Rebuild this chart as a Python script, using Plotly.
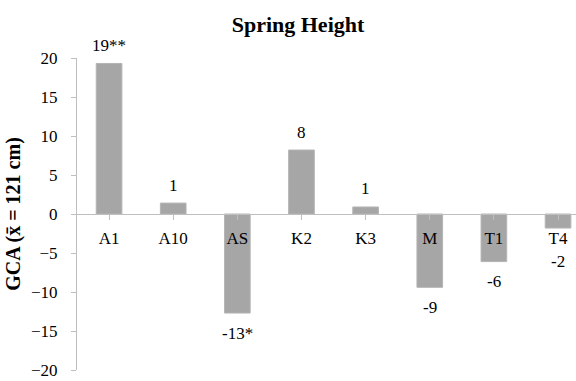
import plotly.graph_objects as go

# Spring height GCA per parent line
lines = ["A1", "A10", "AS", "K2", "K3", "M", "T1", "T4"]
gca = [19.3, 1.4, -12.7, 8.2, 0.9, -9.4, -6.1, -1.8]
signif = ["**", "", "*", "", "", "", "", ""]
y_ticks = [-20, -15, -10, -5, 0, 5, 10, 15, 20]

SERIF = "Liberation Serif, Times New Roman, serif"
AXIS_GREY = "#BFBFBF"
BAR_GREY = "#A6A6A6"

fig = go.Figure()
fig.add_trace(go.Bar(
    x=list(range(len(lines))),
    y=gca,
    width=0.4,
    marker=dict(color=BAR_GREY, line=dict(color="#B4B4B4", width=1)),
    hoverinfo="skip",
))

# value labels, rounded, with significance stars
annotations = []
for i, (v, s) in enumerate(zip(gca, signif)):
    text = f"{round(v):d}{s}"
    if v >= 0:
        annotations.append(dict(x=i, y=v, text=text, showarrow=False,
                                yanchor="middle", yshift=18,
                                font=dict(family=SERIF, size=17, color="#000")))
    else:
        # keep short negative labels clear of the category names
        annotations.append(dict(x=i, y=min(v, -3.5), text=text, showarrow=False,
                                yanchor="middle", yshift=-20,
                                font=dict(family=SERIF, size=17, color="#000")))

fig.update_layout(
    width=576, height=381,
    margin=dict(l=77, r=0, t=58, b=11),
    paper_bgcolor="white", plot_bgcolor="white",
    showlegend=False,
    title=dict(text="<b>Spring Height</b>", x=298 / 576, xref="container",
               xanchor="center", y=1 - 24 / 381, yref="container", yanchor="middle",
               font=dict(family=SERIF, size=22, color="#000")),
    annotations=annotations,
    xaxis=dict(
        range=[-0.5, 7.28],
        tickmode="array", tickvals=list(range(len(lines))), ticktext=lines,
        tickson="boundaries",
        anchor="free", position=0.5,
        showline=True, linecolor=AXIS_GREY, linewidth=1,
        ticks="outside", ticklen=5, tickcolor=AXIS_GREY,
        showgrid=False, zeroline=False,
        ticklabelstandoff=4,
        tickfont=dict(family=SERIF, size=17, color="#000"),
    ),
    yaxis=dict(
        range=[-20, 20],
        tickmode="array", tickvals=y_ticks,
        showline=True, linecolor=AXIS_GREY, linewidth=1,
        ticks="outside", ticklen=5, tickcolor=AXIS_GREY,
        showgrid=False, zeroline=False,
        ticklabelstandoff=10,
        tickfont=dict(family=SERIF, size=17, color="#000"),
        title=dict(text="<b>GCA (x\u0304 = 121 cm)</b>", standoff=5,
                   font=dict(family=SERIF, size=20, color="#000")),
    ),
)

fig.write_html("out.html")
